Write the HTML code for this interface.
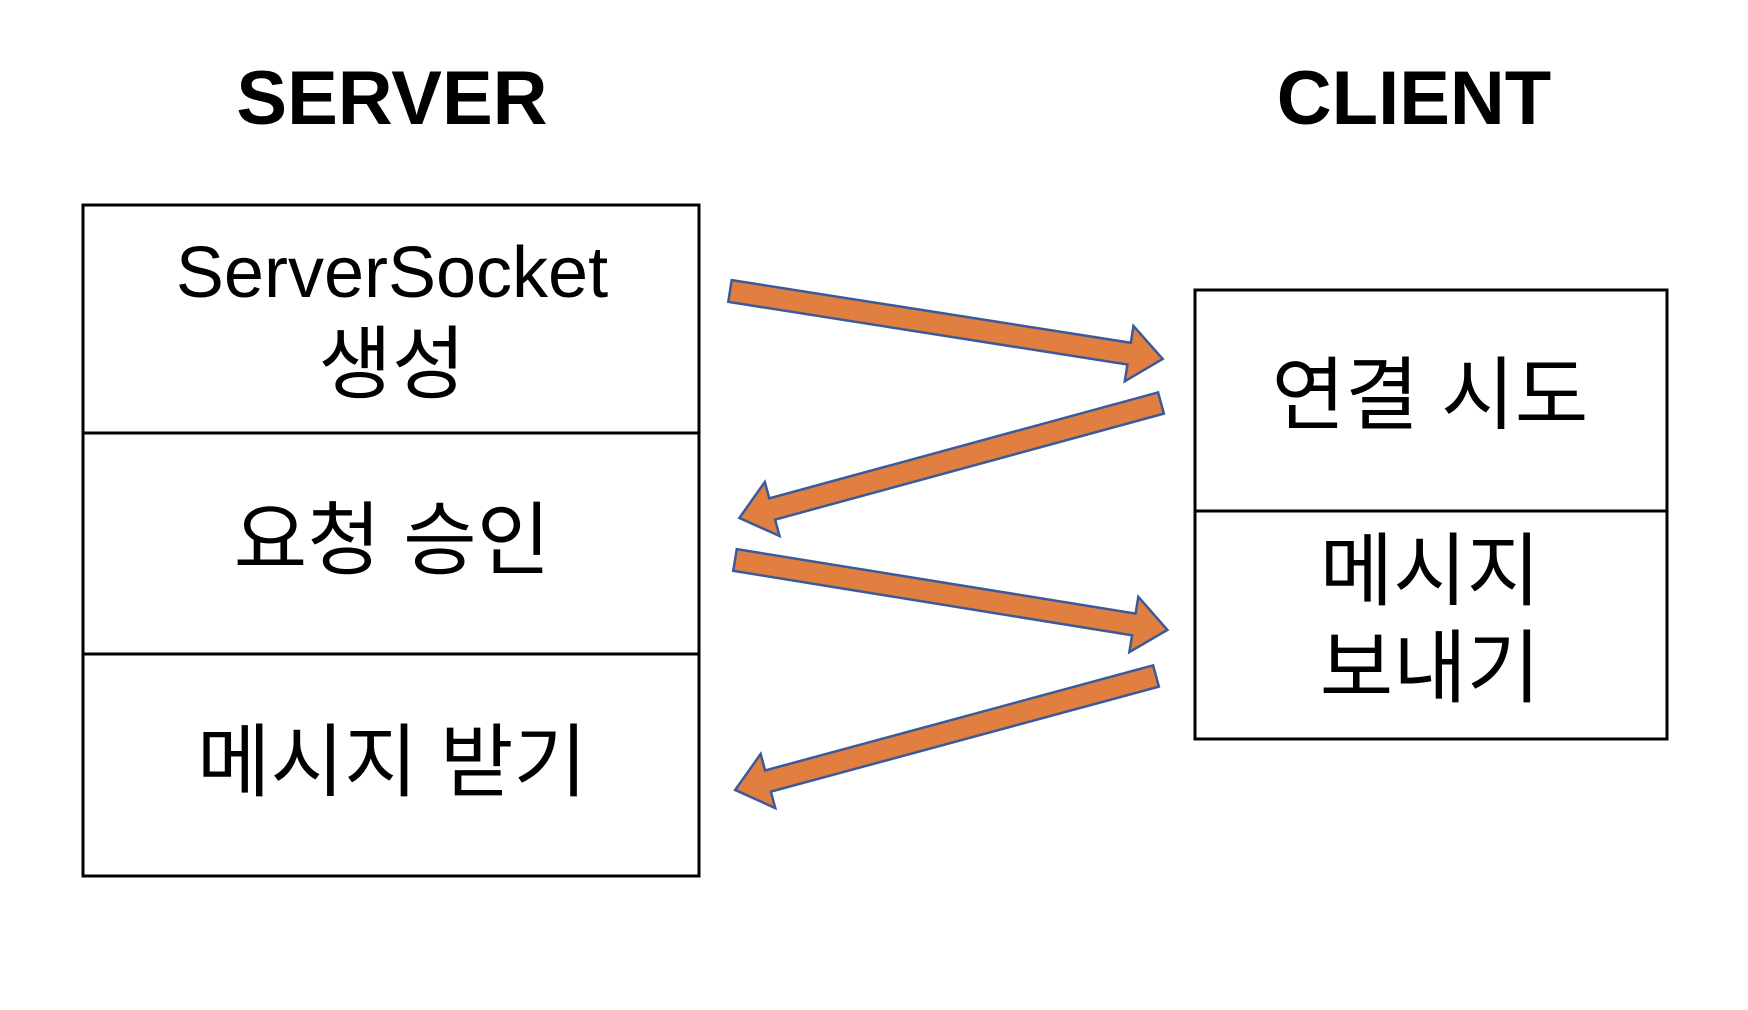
<!DOCTYPE html>
<html><head><meta charset="utf-8"><style>
body{margin:0;background:#fff}
svg{display:block}
text{font-family:"Liberation Sans","Noto Sans CJK KR",sans-serif;fill:#000;text-anchor:middle}
</style></head><body>
<svg width="1748" height="1010" viewBox="0 0 1748 1010" xmlns="http://www.w3.org/2000/svg">
<text x="392" y="124" font-size="76" font-weight="bold">SERVER</text>
<text x="1414" y="124" font-size="76" font-weight="bold">CLIENT</text>
<g fill="none" stroke="#000" stroke-width="3">
<rect x="83" y="205" width="616" height="671"/>
<line x1="83" y1="433" x2="699" y2="433"/>
<line x1="83" y1="654" x2="699" y2="654"/>
<rect x="1195" y="290" width="472" height="449"/>
<line x1="1195" y1="511" x2="1667" y2="511"/>
</g>
<text x="392" y="297" font-size="72">ServerSocket</text>
<text x="392" y="392" font-size="80">생성</text>
<text x="392" y="568" font-size="80">요청 승인</text>
<text x="392" y="790" font-size="80">메시지 받기</text>
<text x="1430" y="423" font-size="80">연결 시도</text>
<text x="1430" y="599" font-size="80">메시지</text>
<text x="1430" y="696" font-size="80">보내기</text>
<g fill="#e07f40" stroke="#3b5a9a" stroke-width="2.5" stroke-linejoin="miter">
<polygon transform="translate(730,291) rotate(8.92)" points="0,-11 404,-11 404,-28 438,0 404,28 404,11 0,11"/>
<polygon transform="translate(1161,403) rotate(164.75)" points="0,-11 403,-11 403,-28 437,0 403,28 403,11 0,11"/>
<polygon transform="translate(735,560) rotate(9.18)" points="0,-11 404,-11 404,-28 438,0 404,28 404,11 0,11"/>
<polygon transform="translate(1156,676) rotate(164.85)" points="0,-11 402,-11 402,-28 436,0 402,28 402,11 0,11"/>
</g>
</svg>
</body></html>
